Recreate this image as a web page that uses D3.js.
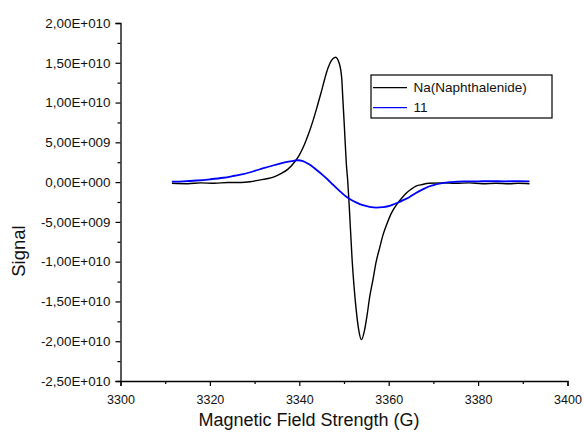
<!DOCTYPE html>
<html>
<head>
<meta charset="utf-8">
<script src="https://cdn.jsdelivr.net/npm/d3@7"></script>
<style>
  html, body { margin: 0; padding: 0; background: #fff; }
  svg { display: block; font-family: Arial, "Liberation Sans", sans-serif; }
</style>
</head>
<body>
<svg id="chart" width="584" height="439"></svg>
<script>
// ---- data ----
const seriesNames = ["Na(Naphthalenide)", "11"];
const seriesColors = ["#000000", "#0000FF"];

const naField = [3311.5, 3315, 3318, 3321, 3324, 3327, 3329, 3331, 3333, 3334.5, 3336, 3337.4, 3338.9, 3340, 3341.2, 3342.1, 3343.0, 3344.0, 3344.9, 3345.7, 3346.4, 3347.2, 3348.1, 3348.95, 3349.5, 3349.7, 3350.1, 3350.5, 3350.85, 3351.2, 3351.8, 3352.7, 3353.3, 3353.9, 3354.6, 3355.2, 3355.7, 3356.5, 3357.2, 3358.0, 3358.7, 3359.5, 3360.2, 3361.0, 3361.7, 3362.8, 3363.9, 3365, 3366.1, 3367.5, 3369, 3372, 3375, 3378, 3381, 3384, 3387, 3389, 3391.5];
const naSignal = [-0.15e9, -0.2e9, -0.1e9, -0.15e9, -0.05e9, -0.05e9, 0.05e9, 0.25e9, 0.45e9, 0.7e9, 1.1e9, 1.6e9, 2.5e9, 3.4e9, 4.8e9, 6.1e9, 7.6e9, 9.5e9, 11.3e9, 13.0e9, 14.3e9, 15.3e9, 15.7e9, 14.9e9, 13.0e9, 10.9e9, 6.8e9, 2.5e9, 0, -3.3e9, -9.6e9, -15.9e9, -18.6e9, -19.8e9, -18.6e9, -16.6e9, -14.6e9, -12.2e9, -10.0e9, -8.2e9, -6.7e9, -5.4e9, -4.4e9, -3.5e9, -2.9e9, -2.1e9, -1.4e9, -0.9e9, -0.5e9, -0.3e9, -0.15e9, -0.1e9, -0.15e9, -0.1e9, -0.2e9, -0.15e9, -0.2e9, -0.15e9, -0.2e9];

const s11Field = [3311.5, 3314, 3317, 3320, 3323, 3325.5, 3327.4, 3330, 3332, 3334.5, 3336.5, 3338.5, 3339.7, 3340.8, 3342, 3343.4, 3345, 3346.4, 3347.5, 3349, 3350.2, 3351.2, 3352.7, 3354.2, 3355.7, 3357.2, 3358.7, 3360.2, 3361.3, 3362.4, 3363.5, 3364.6, 3366, 3367.5, 3369, 3370.5, 3372, 3374, 3377, 3380, 3383, 3386, 3389, 3391.5];
const s11Signal = [0.05e9, 0.1e9, 0.2e9, 0.35e9, 0.55e9, 0.8e9, 1.0e9, 1.4e9, 1.75e9, 2.15e9, 2.45e9, 2.65e9, 2.75e9, 2.65e9, 2.3e9, 1.75e9, 1.0e9, 0.3e9, -0.3e9, -1.1e9, -1.7e9, -2.1e9, -2.55e9, -2.9e9, -3.1e9, -3.2e9, -3.15e9, -3.0e9, -2.75e9, -2.5e9, -2.2e9, -1.9e9, -1.4e9, -0.95e9, -0.55e9, -0.3e9, -0.12e9, 0.0, 0.08e9, 0.1e9, 0.12e9, 0.1e9, 0.12e9, 0.1e9];

const xTicks = [3300, 3320, 3340, 3360, 3380, 3400];
const xMinorTicks = [3310, 3330, 3350, 3370, 3390];
const yTicks = [-2.5e10, -2.0e10, -1.5e10, -1.0e10, -5e9, 0, 5e9, 1.0e10, 1.5e10, 2.0e10];
const yTickLabels = ["-2,50E+010", "-2,00E+010", "-1,50E+010", "-1,00E+010", "-5,00E+009", "0,00E+000", "5,00E+009", "1,00E+010", "1,50E+010", "2,00E+010"];
const yMinorTicks = [-2.25e10, -1.75e10, -1.25e10, -7.5e9, -2.5e9, 2.5e9, 7.5e9, 1.25e10, 1.75e10];

const xTitle = "Magnetic Field Strength (G)";
const yTitle = "Signal";

// ---- chart ----
const svg = d3.select("#chart");
const plotLeft = 120.5, plotRight = 567.5, plotTop = 23, plotBottom = 381;

const x = d3.scaleLinear().domain([3300, 3400]).range([plotLeft, plotRight]);
const y = d3.scaleLinear().domain([-2.5e10, 2.0e10]).range([plotBottom, plotTop]);

const series = [
  naField.map((f, i) => ({ x: f, y: naSignal[i] })),
  s11Field.map((f, i) => ({ x: f, y: s11Signal[i] }))
];

const line = d3.line().x(d => x(d.x)).y(d => y(d.y)).curve(d3.curveMonotoneX);

// curves
svg.append("g").selectAll("path").data(series).join("path")
  .attr("d", line)
  .attr("fill", "none")
  .attr("stroke", (d, i) => seriesColors[i])
  .attr("stroke-width", (d, i) => i === 0 ? 1.4 : 1.8)
  .attr("stroke-linejoin", "round");

// x axis
const gx = svg.append("g").attr("transform", `translate(0,${plotBottom})`)
  .call(d3.axisBottom(x).tickValues(xTicks).tickSize(5).tickPadding(9).tickFormat(d3.format("d")));
gx.append("g").call(d3.axisBottom(x).tickValues(xMinorTicks).tickSize(3).tickFormat(""))
  .select(".domain").remove();

// y axis
const gy = svg.append("g").attr("transform", `translate(${plotLeft},0)`)
  .call(d3.axisLeft(y).tickValues(yTicks).tickSize(5).tickPadding(5)
    .tickFormat((d, i) => yTickLabels[i]));
gy.append("g").call(d3.axisLeft(y).tickValues(yMinorTicks).tickSize(3).tickFormat(""))
  .select(".domain").remove();

svg.selectAll(".domain").attr("stroke", "#000").attr("stroke-width", 1.3);
svg.selectAll(".tick line").attr("stroke", "#000").attr("stroke-width", 1.2);
gx.selectAll(".tick text").attr("font-size", "12.5px").attr("fill", "#111").attr("font-family", "Arial, 'Liberation Sans', sans-serif");
gy.selectAll(".tick text").attr("font-size", "13.4px").attr("fill", "#111").attr("font-family", "Arial, 'Liberation Sans', sans-serif");

// titles
svg.append("text").attr("x", 309).attr("y", 426).attr("text-anchor", "middle")
  .attr("font-size", "18px").attr("fill", "#111").text(xTitle);
svg.append("text").attr("transform", "translate(25,251) rotate(-90)").attr("text-anchor", "middle")
  .attr("font-size", "18.5px").attr("fill", "#111").text(yTitle);

// legend
const lg = svg.append("g");
lg.append("rect").attr("x", 371).attr("y", 75).attr("width", 181).attr("height", 43)
  .attr("fill", "#fff").attr("stroke", "#000").attr("stroke-width", 1.2);
const rowsY = [87.7, 107.7];
seriesNames.forEach((name, i) => {
  lg.append("line").attr("x1", 373).attr("x2", 407).attr("y1", rowsY[i]).attr("y2", rowsY[i])
    .attr("stroke", seriesColors[i]).attr("stroke-width", 1.3);
  lg.append("text").attr("x", 413.5).attr("y", rowsY[i]).attr("dy", "0.35em")
    .attr("font-size", "13.5px").attr("fill", "#111").text(name);
});
</script>
</body>
</html>
